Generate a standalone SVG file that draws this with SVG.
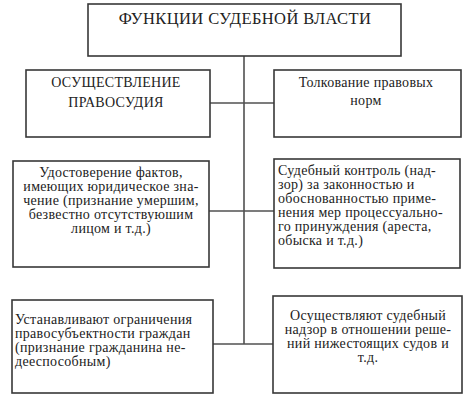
<svg xmlns="http://www.w3.org/2000/svg" width="474" height="401" viewBox="0 0 474 401">
<style>
.box{fill:#fff;stroke:#383838;stroke-width:1.6}
.ln{stroke:#505050;stroke-width:1.6;fill:none}
text{font-family:"Liberation Serif","DejaVu Serif",serif;fill:#222;font-size:14px;letter-spacing:0.3px}
.c{text-anchor:middle}
.t{font-size:16.5px;letter-spacing:0.4px}
</style>
<rect width="474" height="401" fill="#fff"/>
<g id="connectors">
<line class="ln" x1="244" y1="56" x2="244" y2="344"/>
<line class="ln" x1="210" y1="103" x2="274" y2="103"/>
<line class="ln" x1="209" y1="211" x2="274" y2="211"/>
<line class="ln" x1="213" y1="344" x2="273" y2="344"/>
</g>
<g id="n-title">
<rect class="box" x="88" y="4" width="313" height="52"/>
<text class="c t" x="245" y="24">ФУНКЦИИ СУДЕБНОЙ ВЛАСТИ</text>
</g>
<g id="n-pravosudie">
<rect class="box" x="26" y="70" width="184" height="67"/>
<text class="c" x="116" y="87">ОСУЩЕСТВЛЕНИЕ</text>
<text class="c" x="116" y="107">ПРАВОСУДИЯ</text>
</g>
<g id="n-tolkovanie">
<rect class="box" x="274" y="70" width="187" height="67"/>
<text class="c" x="366" y="87">Толкование правовых</text>
<text class="c" x="366" y="105">норм</text>
</g>
<g id="n-udostoverenie">
<rect class="box" x="13" y="161" width="196" height="106"/>
<text class="c" x="111" y="177">Удостоверение фактов,</text>
<text class="c" x="111" y="191">имеющих юридическое зна-</text>
<text class="c" x="111" y="205">чение (признание умершим,</text>
<text class="c" x="111" y="219">безвестно отсутствуюшим</text>
<text class="c" x="111" y="233">лицом и т.д.)</text>
</g>
<g id="n-kontrol">
<rect class="box" x="274" y="159" width="186" height="109"/>
<text x="278" y="175">Судебный контроль (над-</text>
<text x="278" y="189">зор) за законностью  и</text>
<text x="278" y="203">обоснованностью приме-</text>
<text x="278" y="217">нения мер процессуально-</text>
<text x="278" y="231">го принуждения (ареста,</text>
<text x="278" y="245">обыска и т.д.)</text>
</g>
<g id="n-ogranichenia">
<rect class="box" x="12" y="300" width="201" height="93"/>
<text x="15" y="324">Устанавливают ограничения</text>
<text x="15" y="338">правосубъектности граждан</text>
<text x="15" y="352">(признание гражданина не-</text>
<text x="15" y="366">дееспособным)</text>
</g>
<g id="n-nadzor">
<rect class="box" x="273" y="296" width="189" height="97"/>
<text class="c" x="368" y="320">Осуществляют судебный</text>
<text class="c" x="368" y="334">надзор в отношении реше-</text>
<text class="c" x="368" y="348">ний нижестоящих судов и</text>
<text class="c" x="368" y="362">т.д.</text>
</g>
</svg>
